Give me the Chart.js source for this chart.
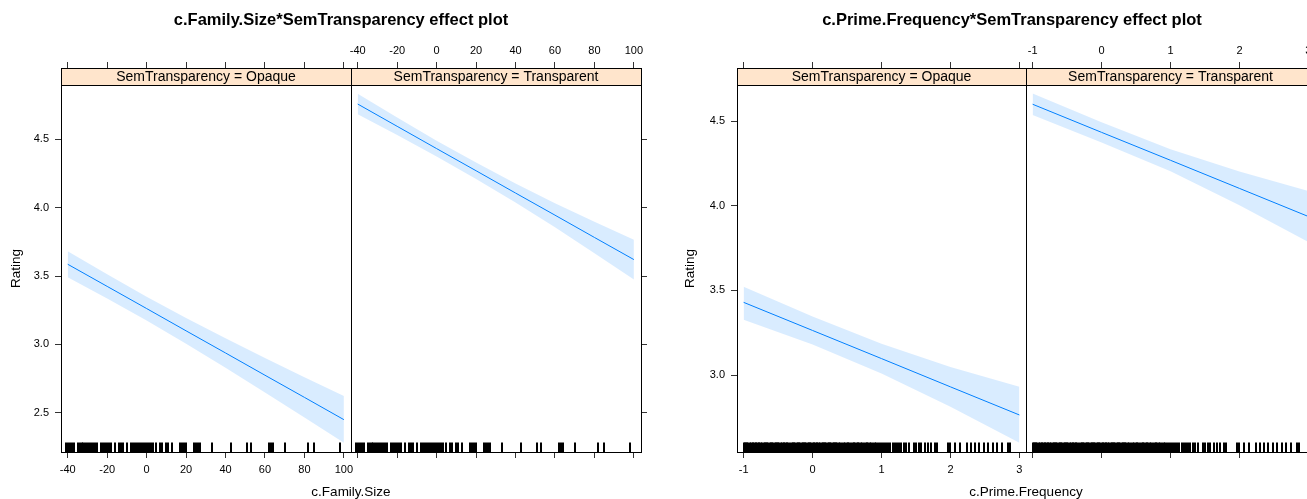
<!DOCTYPE html>
<html><head><meta charset="utf-8">
<script src="https://cdn.jsdelivr.net/npm/chart.js@4/dist/chart.umd.min.js"></script>
<style>
html,body{margin:0;padding:0;background:#fff;overflow:hidden;width:1307px;height:499px;}
#wrap{position:relative;width:1307px;height:499px;overflow:hidden;background:#fff;}
canvas{position:absolute;top:0;}
</style></head><body>
<div id="wrap">
<canvas id="c1" width="682" height="499" style="left:0;width:682px;height:499px"></canvas>
<canvas id="c2" width="704" height="499" style="left:660px;width:704px;height:499px"></canvas>
</div>
<script>
// ---------- DATA ----------
const stripLabels = ['SemTransparency = Opaque', 'SemTransparency = Transparent'];

// Plot 1: c.Family.Size
const famTitle = 'c.Family.Size*SemTransparency effect plot';
const famXLabel = 'c.Family.Size';
const famXTicks = [-40, -20, 0, 20, 40, 60, 80, 100];
const famYTicks = [2.5, 3.0, 3.5, 4.0, 4.5];
const famX = [-40, -20, 0, 20, 40, 60, 80, 100];
const famOpaqueFit   = [3.586, 3.424, 3.262, 3.099, 2.937, 2.774, 2.612, 2.449];
const famOpaqueUpper = [3.681, 3.512, 3.349, 3.193, 3.045, 2.900, 2.759, 2.622];
const famOpaqueLower = [3.491, 3.336, 3.175, 3.005, 2.829, 2.648, 2.465, 2.280];
const famTranspFit   = [4.758, 4.595, 4.432, 4.270, 4.107, 3.945, 3.782, 3.620];
const famTranspUpper = [4.833, 4.659, 4.490, 4.330, 4.177, 4.033, 3.897, 3.765];
const famTranspLower = [4.683, 4.531, 4.374, 4.210, 4.037, 3.857, 3.667, 3.475];
const famRug = [-41,-40,-39,-38,-37,-35,-34,-33,-32,-31,-30,-29,-28,-27,-26,-25,-23,-22,-21,-20,-19,-18,
  -16,-14,-13,-12,-10,-8,-7,-6,-5,-4,-3,-2,-1,0,1,2,3,5,7,8,10,11,13,
  17,18,19,20,24,25,26,27,33,43,51,53,62,63,64,70,82,85,98];

// Plot 2: c.Prime.Frequency
const freqTitle = 'c.Prime.Frequency*SemTransparency effect plot';
const freqXLabel = 'c.Prime.Frequency';
const freqXTicks = [-1, 0, 1, 2, 3];
const freqYTicks = [3.0, 3.5, 4.0, 4.5];
const freqX = [-1, 0, 1, 2, 3];
const freqOpaqueFit   = [3.429, 3.263, 3.097, 2.930, 2.764];
const freqOpaqueUpper = [3.521, 3.346, 3.185, 3.048, 2.931];
const freqOpaqueLower = [3.327, 3.180, 3.009, 2.812, 2.600];
const freqTranspFit   = [4.599, 4.433, 4.268, 4.102, 3.936];
const freqTranspUpper = [4.663, 4.493, 4.333, 4.202, 4.087];
const freqTranspLower = [4.535, 4.373, 4.203, 4.002, 3.785];
const freqRug = [-1.00,-0.98,-0.96,-0.95,-0.93,-0.91,-0.89,-0.87,-0.86,-0.84,-0.82,-0.80,-0.78,-0.77,-0.75,
  -0.73,-0.71,-0.69,-0.68,-0.66,-0.64,-0.62,-0.60,-0.59,-0.57,-0.55,-0.53,-0.51,-0.50,-0.48,-0.46,-0.44,
  -0.42,-0.41,-0.39,-0.37,-0.36,
  -0.32,-0.30,-0.29,-0.27,-0.25,-0.23,-0.21,-0.20,-0.18,-0.16,-0.14,-0.12,-0.11,-0.09,-0.07,-0.05,-0.03,
  -0.02,0.00,0.02,0.04,0.06,0.07,0.09,0.11,0.13,0.15,0.16,0.18,0.20,0.22,0.24,0.25,0.27,0.29,0.31,0.33,
  0.34,0.36,0.38,0.40,
  0.43,0.45,0.47,0.50,0.52,0.53,0.56,0.58,0.60,0.61,0.64,0.66,0.67,0.70,0.72,0.74,0.77,0.79,0.80,0.83,
  0.85,0.88,0.90,0.92,
  0.95,0.98,1.01,1.04,1.07,1.10,1.12,1.16,1.19,1.22,1.26,1.29,1.33,1.36,1.40,
  1.47,1.50,1.55,1.58,1.63,1.67,1.72,1.78,1.81,
  1.96,2.00,2.06,2.14,
  2.24,2.30,2.35,2.41,2.48,2.54,
  2.62,2.68,2.75,2.83,2.87];

// ---------- RENDERING ----------
const FONT = "'Liberation Sans', Arial, Helvetica, sans-serif";
const BAND = 'rgba(0,128,255,0.15)';
const LINE = '#0080ff';
const AXC = '#333333';

function pts(xs, ys) { return xs.map((x, i) => ({x: x, y: ys[i]})); }
function fixSize(prop, val) {
  return function (scale) {
    scale[prop] = val;
    scale.paddingLeft = 0; scale.paddingRight = 0; scale.paddingTop = 0; scale.paddingBottom = 0;
  };
}
function setTicks(vals) { return function (scale) { scale.ticks = vals.map(v => ({value: v})); }; }

function effectPlot(canvasId, spec) {
  const grid = {drawOnChartArea: false, drawTicks: true, tickLength: 6, color: AXC, lineWidth: 1};
  const tickFont = {family: FONT, size: 11};
  function xScale(pos, show, stack, weight, pad, h) {
    return {
      type: 'linear', axis: 'x', position: pos, stack: stack, stackWeight: 1, weight: weight,
      min: spec.xMin, max: spec.xMax, grid: grid, border: {display: false},
      ticks: {display: show, font: tickFont, color: '#000', padding: pad, maxRotation: 0, autoSkip: false},
      afterBuildTicks: setTicks(spec.xTicks), afterFit: fixSize('height', h)
    };
  }
  function yScale(pos, show, w) {
    return {
      type: 'linear', axis: 'y', position: pos, min: spec.yMin, max: spec.yMax,
      grid: grid, border: {display: false},
      ticks: {display: show, font: tickFont, color: '#000', padding: 6, autoSkip: false,
        callback: v => Number(v).toFixed(1)},
      afterBuildTicks: setTicks(spec.yTicks), afterFit: fixSize('width', w)
    };
  }
  const datasets = [];
  spec.panels.forEach((p, i) => {
    const xid = i === 0 ? 'x1' : 'x2';
    const common = {xAxisID: xid, yAxisID: 'y', showLine: true, pointRadius: 0, tension: 0};
    datasets.push(Object.assign({data: pts(spec.x, p.upper), borderColor: 'rgba(0,0,0,0)', borderWidth: 1,
      backgroundColor: BAND, fill: false}, common));
    datasets.push(Object.assign({data: pts(spec.x, p.lower), borderColor: 'rgba(0,0,0,0)', borderWidth: 1,
      backgroundColor: BAND, fill: '-1'}, common));
    datasets.push(Object.assign({data: pts(spec.x, p.fit), borderColor: LINE, borderWidth: 1,
      fill: false}, common));
  });
  const STRIP_H = 17;
  const lattice = {
    id: 'lattice' + canvasId,
    afterDatasetsDraw(chart) {
      const ctx = chart.ctx, ca = chart.chartArea;
      ctx.save();
      ctx.fillStyle = '#000';
      ['x1', 'x2'].forEach(id => {
        const s = chart.scales[id];
        spec.rug.forEach(v => {
          const px = Math.round(s.getPixelForValue(v));
          ctx.fillRect(px - 1, ca.bottom - 9.5, 2, 9.5);
        });
      });
      ctx.restore();
    },
    afterDraw(chart) {
      const ctx = chart.ctx, ca = chart.chartArea;
      ctx.save();
      ctx.lineWidth = 1;
      ['x1', 'x2'].forEach((id, i) => {
        const s = chart.scales[id];
        const l = Math.round(s.left), w = Math.round(s.right) - l;
        ctx.fillStyle = '#ffe5cc';
        ctx.fillRect(l, ca.top, w, STRIP_H);
        ctx.strokeStyle = '#000';
        ctx.strokeRect(l + 0.5, Math.round(ca.top) + 0.5, w, STRIP_H);
        ctx.strokeRect(l + 0.5, Math.round(ca.top) + 0.5, w, Math.round(ca.bottom - ca.top));
        ctx.fillStyle = '#000';
        ctx.font = '14px ' + FONT;
        ctx.textAlign = 'center';
        ctx.textBaseline = 'middle';
        ctx.fillText(stripLabels[i], (s.left + s.right) / 2, ca.top + STRIP_H / 2 + 0.5);
      });
      ctx.translate(spec.ylabX, (ca.top + STRIP_H + ca.bottom) / 2);
      ctx.rotate(-Math.PI / 2);
      ctx.font = '13.5px ' + FONT;
      ctx.fillStyle = '#000';
      ctx.textAlign = 'center';
      ctx.textBaseline = 'middle';
      ctx.fillText('Rating', 0, 0);
      ctx.restore();
    }
  };
  return new Chart(document.getElementById(canvasId), {
    type: 'scatter',
    data: {datasets: datasets},
    plugins: [lattice],
    options: {
      responsive: false, animation: false, devicePixelRatio: 1, events: [],
      layout: {padding: {left: 0, right: 0, top: 0, bottom: 0}},
      plugins: {
        legend: {display: false}, tooltip: {enabled: false},
        title: {display: true, text: spec.title, fullSize: true, color: '#000',
          font: {family: FONT, size: 16.5, weight: 'bold', lineHeight: 1.2},
          padding: {top: 11, bottom: 7.2}},
        subtitle: {display: true, text: spec.xLabel, position: 'bottom', fullSize: false, color: '#000',
          font: {family: FONT, size: 13.5, weight: 'normal', lineHeight: 1},
          padding: {top: 7.5, bottom: 0}}
      },
      scales: {
        x1: xScale('bottom', true, 'bot', 0, 5, 26),
        x2: xScale('bottom', false, 'bot', 1, 5, 26),
        x1t: xScale('top', false, 'top', 1, 4, 30),
        x2t: xScale('top', true, 'top', 0, 4, 30),
        y: yScale('left', true, spec.yAxisW),
        yR: yScale('right', false, spec.yRW)
      }
    }
  });
}

effectPlot('c1', {
  title: famTitle, xLabel: famXLabel, x: famX, xTicks: famXTicks, yTicks: famYTicks,
  xMin: -43.4, xMax: 103.6, yMin: 2.2125, yMax: 5.0216,
  panels: [{fit: famOpaqueFit, upper: famOpaqueUpper, lower: famOpaqueLower},
           {fit: famTranspFit, upper: famTranspUpper, lower: famTranspLower}],
  rug: famRug, yAxisW: 61, yRW: 41, ylabX: 16
});
effectPlot('c2', {
  title: freqTitle, xLabel: freqXLabel, x: freqX, xTicks: freqXTicks, yTicks: freqYTicks,
  xMin: -1.096, xMax: 3.096, yMin: 2.5453, yMax: 4.813,
  panels: [{fit: freqOpaqueFit, upper: freqOpaqueUpper, lower: freqOpaqueLower},
           {fit: freqTranspFit, upper: freqTranspUpper, lower: freqTranspLower}],
  rug: freqRug, yAxisW: 77, yRW: 49, ylabX: 30
});
</script>
</body></html>
